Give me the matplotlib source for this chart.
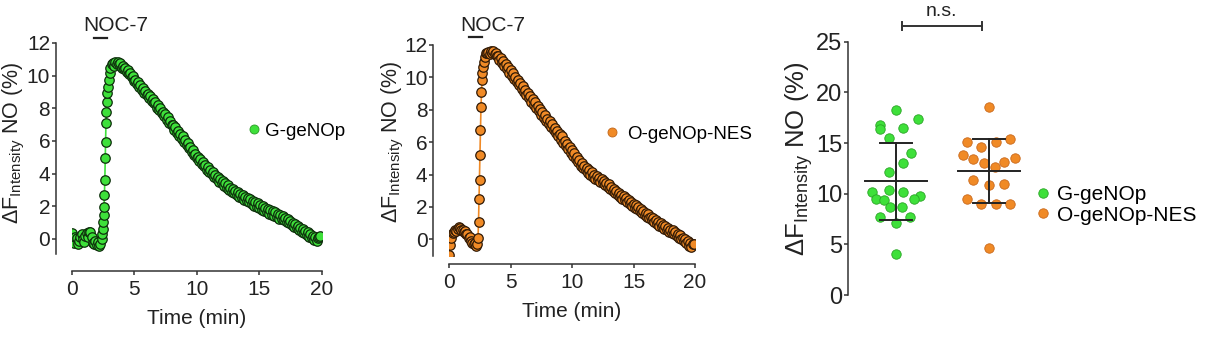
import numpy as np
import matplotlib
matplotlib.use("Agg")
import matplotlib.pyplot as plt
from matplotlib.lines import Line2D

plt.rcParams['font.family'] = ['Liberation Sans', 'DejaVu Sans']
plt.rcParams['mathtext.fontset'] = 'custom'
plt.rcParams['mathtext.rm'] = 'Liberation Sans'

# ---- time course, G-geNOp (min, %)
g_base_t = [0.0, 0.1, 0.2, 0.3, 0.4, 0.5, 0.6, 0.7, 0.8, 0.9, 1.0, 1.1, 1.2,
            1.3, 1.4, 1.5, 1.6, 1.7, 1.8, 1.9, 2.0, 2.1, 2.2, 2.3, 2.4]
g_base_v = [0.35, -0.15, -0.25, 0.1, 0.05, -0.3, -0.1, 0.15, 0.3, 0.0, -0.2,
            0.2, 0.35, 0.1, 0.45, 0.4, 0.1, -0.25, -0.3, -0.1, -0.35, -0.2,
            -0.4, -0.3, 0.0]
g_rise_t = [2.45, 2.5, 2.53, 2.56, 2.59, 2.62, 2.65, 2.68, 2.71, 2.74, 2.77,
            2.8, 2.85, 2.9, 2.96, 3.03, 3.1, 3.2, 3.3]
g_rise_v = [0.3, 0.6, 1.06, 1.5, 1.98, 2.69, 3.61, 4.94, 5.96, 7.08, 7.8,
            8.41, 8.92, 9.33, 9.74, 10.15, 10.5, 10.7, 10.8]
g_decay_v = [
    10.6, 10.85, 10.7, 10.85, 10.7, 10.75, 10.5,
    10.6, 10.4, 10.5, 10.25, 10.35, 10.1, 10.15, 9.9, 9.95, 9.7,
    9.75, 9.5, 9.6, 9.3, 9.45, 9.15, 9.25, 8.95, 9.05, 8.8,
    8.9, 8.65, 8.75, 8.45, 8.6, 8.3, 8.4, 8.05, 8.2, 7.9,
    8.0, 7.7, 7.8, 7.55, 7.65, 7.3, 7.45, 7.1, 7.2, 6.95,
    7.0, 6.7, 6.85, 6.5, 6.6, 6.3, 6.45, 6.1, 6.3, 5.95,
    6.05, 5.75, 5.85, 5.55, 5.65, 5.35, 5.45, 5.15, 5.2, 4.95,
    5.05, 4.75, 4.9, 4.6, 4.7, 4.45, 4.55, 4.25, 4.4, 4.1,
    4.2, 3.95, 4.1, 3.8, 3.9, 3.65, 3.8, 3.5, 3.65, 3.4,
    3.55, 3.25, 3.4, 3.15, 3.3, 3.0, 3.15, 2.9, 3.05, 2.8,
    2.95, 2.7, 2.85, 2.6, 2.75, 2.5, 2.7, 2.4, 2.6, 2.35,
    2.5, 2.25, 2.45, 2.15, 2.35, 2.05, 2.25, 1.95, 2.2, 1.9,
    2.1, 1.8, 2.0, 1.7, 1.9, 1.65, 1.85, 1.55, 1.75, 1.5,
    1.7, 1.4, 1.65, 1.35, 1.55, 1.25, 1.5, 1.2, 1.4, 1.15,
    1.3, 1.05, 1.2, 0.95, 1.1, 0.85, 1.0, 0.75, 0.9, 0.65,
    0.8, 0.55, 0.7, 0.45, 0.6, 0.35, 0.5, 0.25, 0.4, 0.15,
    0.3, 0.05, 0.2, -0.05, 0.1, -0.1, 0.05, 0.15, 0.2]
g_decay_t = [round(3.4 + 0.1 * i, 2) for i in range(len(g_decay_v))]

# ---- time course, O-geNOp-NES (min, %)
o_base_t = [0.0, 0.1, 0.2, 0.3, 0.4, 0.5, 0.6, 0.7, 0.8, 0.9, 1.0, 1.1, 1.2,
            1.3, 1.4, 1.5, 1.6, 1.7, 1.8, 1.9, 2.0, 2.1, 2.2, 2.3]
o_base_v = [-0.97, -0.35, 0.1, 0.37, 0.45, 0.55, 0.5, 0.65, 0.75, 0.7, 0.55,
            0.6, 0.45, 0.5, 0.35, 0.3, 0.1, 0.15, -0.1, -0.2, -0.3, -0.25,
            -0.4, -0.3]
o_rise_t = [2.36, 2.4, 2.44, 2.48, 2.52, 2.56, 2.6, 2.64, 2.68, 2.72, 2.76,
            2.82, 2.9, 3.0, 3.1, 3.2]
o_rise_v = [0.1, 1.08, 2.52, 3.65, 5.2, 6.74, 8.18, 9.1, 9.82, 10.24, 10.65,
            10.96, 11.27, 11.48, 11.5, 11.55]
o_decay_v = [
    11.45, 11.6, 11.5, 11.65, 11.45, 11.5, 11.3, 11.35,
    11.1, 11.2, 10.9, 11.0, 10.7, 10.85, 10.5, 10.65, 10.3, 10.45,
    10.1, 10.25, 9.9, 10.05, 9.7, 9.85, 9.5, 9.65, 9.3, 9.45,
    9.1, 9.25, 8.9, 9.05, 8.7, 8.85, 8.5, 8.65, 8.3, 8.45,
    8.1, 8.25, 7.9, 8.05, 7.7, 7.85, 7.5, 7.65, 7.3, 7.45,
    7.1, 7.3, 6.95, 7.1, 6.75, 6.9, 6.55, 6.7, 6.35, 6.5,
    6.15, 6.35, 5.95, 6.1, 5.75, 5.9, 5.55, 5.7, 5.35, 5.5,
    5.15, 5.3, 4.95, 5.1, 4.75, 4.9, 4.55, 4.7, 4.4, 4.55,
    4.25, 4.4, 4.1, 4.25, 3.95, 4.15, 3.85, 4.0, 3.75, 3.9,
    3.65, 3.8, 3.55, 3.7, 3.45, 3.6, 3.35, 3.5, 3.25, 3.4,
    3.1, 3.25, 3.0, 3.1, 2.85, 3.0, 2.75, 2.85, 2.6, 2.75,
    2.5, 2.65, 2.4, 2.55, 2.3, 2.45, 2.2, 2.3, 2.05, 2.2,
    1.95, 2.1, 1.85, 2.0, 1.75, 1.85, 1.6, 1.75, 1.5, 1.65,
    1.4, 1.55, 1.3, 1.4, 1.2, 1.3, 1.05, 1.2, 0.95, 1.05,
    0.85, 1.0, 0.75, 0.9, 0.65, 0.8, 0.55, 0.7, 0.45, 0.6,
    0.4, 0.55, 0.3, 0.45, 0.2, 0.35, 0.1, 0.25, 0.0, 0.1,
    -0.1, 0.0, -0.25, -0.1, -0.4, -0.25, -0.5, -0.3, -0.3]
o_decay_t = [round(3.3 + 0.1 * i, 2) for i in range(len(o_decay_v))]

# ---- peak responses per cell (%)
g_peaks = [18.26, 17.37, 16.78, 16.38, 16.5, 15.5, 13.98, 12.99, 12.1, 10.36,
           10.13, 10.13, 9.47, 9.38, 9.8, 9.47, 8.72, 8.65, 7.73, 7.73, 7.14,
           4.05]
o_peaks = [18.52, 15.13, 14.64, 15.13, 15.36, 13.82, 13.39, 12.99, 12.66,
           13.09, 13.49, 11.35, 10.86, 10.92, 9.47, 8.95, 8.95, 8.95, 4.6]
g_mean, g_sd = 11.25, 3.8
o_mean, o_sd = 12.24, 3.17
labels = ['G-geNOp', 'O-geNOp-NES']

# horizontal scatter of the dots (category units)
g_jit = [0, 0.24, -0.17, -0.17, 0.08, -0.08, 0.16, 0.08, -0.08, -0.08, 0.08,
         -0.26, -0.21, -0.13, 0.26, 0.19, -0.06, 0.06, -0.17, 0.15, 0, 0]
o_jit = [0, -0.24, -0.09, 0.08, 0.23, -0.28, -0.17, -0.05, 0.06, 0.16, 0.28,
         -0.17, 0, 0.16, -0.24, -0.09, 0.08, 0.23, 0]

GREEN = '#3ee03a'
ORANGE = '#f08a26'
INK = '#333333'

W, H = 1230, 338
fig = plt.figure(figsize=(W / 100, H / 100), dpi=100)


def px_axes(x0, x1, ytop, ybot):
    return fig.add_axes([x0 / W, 1 - ybot / H, (x1 - x0) / W, (ybot - ytop) / H])


def style_trace_axes(ax, ymin, left_off, bot_off):
    for s in ['top', 'right']:
        ax.spines[s].set_visible(False)
    ax.spines['left'].set_position(('outward', left_off * 0.72))
    ax.spines['bottom'].set_position(('outward', bot_off * 0.72))
    ax.spines['left'].set_bounds(ymin, 12)
    ax.spines['bottom'].set_bounds(0, 20)
    for s in ['left', 'bottom']:
        ax.spines[s].set_linewidth(1.1)
        ax.spines[s].set_color(INK)
    ax.set_xlim(0, 20)
    ax.set_ylim(ymin, 12)
    ax.set_xticks([0, 5, 10, 15, 20])
    ax.set_yticks([0, 2, 4, 6, 8, 10, 12])
    ax.tick_params(axis='both', labelsize=15, colors=INK, width=1.1, length=3,
                   labelcolor='#222222')
    ax.tick_params(axis='y', pad=1)
    ax.tick_params(axis='x', pad=4)
    ax.set_xlabel('Time (min)', fontsize=15, color='#222222', labelpad=7)


def trace(ax, t, v, face, edge):
    ax.plot(t, v, '-', color=face, lw=1.2, zorder=1)
    ax.plot(t, v, 'o', ms=6.8, mfc=face, mec=edge, mew=0.9, ls='none', zorder=2)


ylab = r'ΔF$_{\mathregular{Intensity}}$ NO (%)'

# ---- panel 1
ax1 = px_axes(71.7, 321.7, 43, 253.7)
style_trace_axes(ax1, -0.9, 16, 17)
trace(ax1, g_base_t + g_rise_t + g_decay_t, g_base_v + g_rise_v + g_decay_v,
      GREEN, '#0e2e0c')
ax1.text(3.5, 13.07, 'NOC-7', fontsize=15, ha='center', va='center',
         color='#222222', clip_on=False)
ax1.plot([1.75, 2.85], [12.3, 12.3], color='#222222', lw=1.6, clip_on=False)
ax1.legend(handles=[Line2D([], [], ls='none', marker='o', ms=6.5, mfc=GREEN,
                           mec='#2a9a25', mew=0.6)],
           labels=['G-geNOp'], fontsize=13.5, frameon=False, loc='center left',
           bbox_to_anchor=(248.4 / W, 1 - 131 / H), bbox_transform=fig.transFigure,
           handlelength=0.6, handletextpad=0.29, borderpad=0, borderaxespad=0)
fig.text(14 / W, 1 - 143 / H, ylab, rotation=90, fontsize=15.5,
         ha='center', va='center', color='#222222')

# ---- panel 2
ax2 = px_axes(449, 695, 45, 255.5)
style_trace_axes(ax2, -1.0, 16, 8)
trace(ax2, o_base_t + o_rise_t + o_decay_t, o_base_v + o_rise_v + o_decay_v,
      ORANGE, '#301a06')
ax2.text(3.54, 13.2, 'NOC-7', fontsize=15, ha='center', va='center',
         color='#222222', clip_on=False)
ax2.plot([1.6, 2.72], [12.5, 12.5], color='#222222', lw=1.6, clip_on=False)
ax2.legend(handles=[Line2D([], [], ls='none', marker='o', ms=6.5, mfc=ORANGE,
                           mec='#c0661a', mew=0.6)],
           labels=['O-geNOp-NES'], fontsize=13.5, frameon=False, loc='center left',
           bbox_to_anchor=(606.4 / W, 1 - 134 / H), bbox_transform=fig.transFigure,
           handlelength=0.6, handletextpad=0.5, borderpad=0, borderaxespad=0)
fig.text(393 / W, 1 - 142 / H, ylab, rotation=90, fontsize=15.5,
         ha='center', va='center', color='#222222')

# ---- panel 3
ax3 = px_axes(848, 848 + 2.116 * 93, 41.7, 295)
ax3.set_xlim(-0.516, 1.6)
ax3.set_ylim(0, 25)
for s in ['top', 'right', 'bottom']:
    ax3.spines[s].set_visible(False)
ax3.spines['left'].set_linewidth(1.1)
ax3.spines['left'].set_color(INK)
ax3.set_xticks([])
ax3.set_yticks([0, 5, 10, 15, 20, 25])
ax3.tick_params(axis='y', labelsize=17, colors=INK, width=1.1, length=3,
                pad=1, labelcolor='#222222')

groups = [(g_peaks, g_jit, g_mean, g_sd, GREEN, '#2aa526'),
          (o_peaks, o_jit, o_mean, o_sd, ORANGE, '#c9691c')]
handles = []
for i, (vals, jit, m, sd, fc, ec) in enumerate(groups):
    h, = ax3.plot(np.array(jit) + i, vals, 'o', ms=6.8, mfc=fc, mec=ec,
                  mew=0.6, ls='none', zorder=2)
    handles.append(h)
    ax3.plot([i - 0.33, i + 0.33], [m, m], color='#222222', lw=1.4, zorder=3)
    ax3.plot([i, i], [m - sd, m + sd], color='#222222', lw=1.4, zorder=3)
    for yy in (m - sd, m + sd):
        ax3.plot([i - 0.17, i + 0.17], [yy, yy], color='#222222', lw=1.4, zorder=3)

# n.s. bracket
ax3.plot([0.06, 0.93], [26.58, 26.58], color='#333333', lw=1.4, clip_on=False)
for xx in (0.06, 0.93):
    ax3.plot([xx, xx], [26.18, 26.98], color='#333333', lw=1.4, clip_on=False)
ax3.text(0.49, 27.1, 'n.s.', fontsize=14, ha='center', va='bottom',
         color='#222222', clip_on=False)

fig.legend(handles=handles, labels=labels, fontsize=15, frameon=False,
           loc='center left', bbox_to_anchor=(1036.75 / W, 1 - 205 / H),
           handlelength=0.6, handletextpad=0.37, borderpad=0, borderaxespad=0,
           labelspacing=0.05)
fig.text(799 / W, 1 - 159 / H, ylab, rotation=90, fontsize=18.5,
         ha='center', va='center', color='#222222')

fig.savefig('out.png', dpi=100, facecolor='white')
